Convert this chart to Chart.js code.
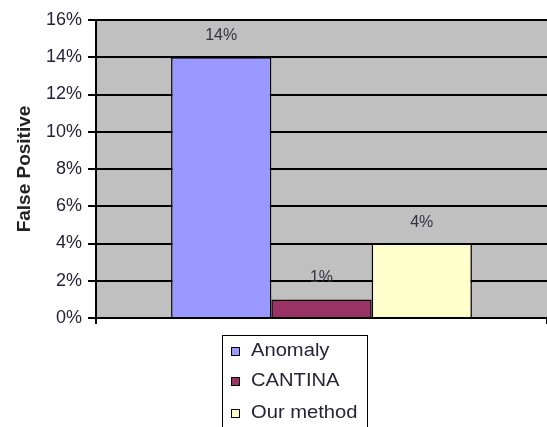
<!DOCTYPE html>
<html>
<head>
<meta charset="utf-8">
<script src="https://cdn.jsdelivr.net/npm/chart.js@4.4.0/dist/chart.umd.min.js"></script>
<style>
  html, body { margin: 0; padding: 0; background: #fff; }
  #wrap { position: relative; width: 547px; height: 427px; overflow: hidden; }
  #legend {
    position: absolute; left: 222px; top: 335px; width: 146px; height: 110px;
    border: 1.5px solid #000; box-sizing: border-box;
    font-family: "Liberation Sans", Arial, sans-serif; font-size: 18px; color: #262338;
  }
  #legend div { position: absolute; left: 8px; height: 18px; line-height: 18px; white-space: nowrap; }
  #legend .sw { display: inline-block; width: 7px; height: 7px; border: 1.5px solid #000; margin-right: 11px; vertical-align: 0; }
  #legend .tx { display: inline-block; transform: scaleX(1.12); transform-origin: left center; }
</style>
</head>
<body>
<div id="wrap">
  <canvas id="fpChart" width="547" height="427"></canvas>
  <div id="legend"></div>
</div>
<script>
// data
const categories = [''];
const seriesNames = ['Anomaly', 'CANTINA', 'Our method'];
const falsePositive = [14, 1, 4];
const seriesColors = ['#9999FF', '#993366', '#FFFFCC'];
const yTicks = [0, 2, 4, 6, 8, 10, 12, 14, 16];

const FONT = '"Liberation Sans", Arial, sans-serif';

// grey plot area like excel
const plotBg = {
  id: 'plotBg',
  beforeDraw(chart) {
    const a = chart.chartArea, c = chart.ctx;
    c.save();
    c.fillStyle = '#C0C0C0';
    c.fillRect(a.left, a.top, a.right - a.left, a.bottom - a.top);
    c.restore();
  }
};

// value labels over the bars
const barLabels = {
  id: 'barLabels',
  afterDatasetsDraw(chart) {
    const c = chart.ctx;
    c.save();
    c.font = '16px ' + FONT;
    c.fillStyle = '#333344';
    c.textAlign = 'center';
    c.textBaseline = 'alphabetic';
    chart.data.datasets.forEach((ds, i) => {
      const bar = chart.getDatasetMeta(i).data[0];
      c.fillText(ds.data[0] + '%', bar.x, bar.y - 17);
    });
    c.restore();
  }
};

const ctx = document.getElementById('fpChart').getContext('2d');
const chart = new Chart(ctx, {
  type: 'bar',
  data: {
    labels: categories,
    datasets: seriesNames.map((name, i) => ({
      label: name,
      data: [falsePositive[i]],
      backgroundColor: seriesColors[i],
      borderColor: '#000',
      borderWidth: 1.5,
      categoryPercentage: 0.667,
      barPercentage: 1.0
    }))
  },
  options: {
    responsive: false,
    animation: false,
    layout: { padding: { top: 20, right: 0, left: 0, bottom: 0 } },
    plugins: {
      legend: { display: false },
      tooltip: { enabled: false }
    },
    scales: {
      x: {
        ticks: { display: false },
        grid: { color: '#000', lineWidth: 2, tickLength: 6, drawOnChartArea: false },
        border: { color: '#000', width: 2 },
        afterFit(scale) { scale.height = 109; }
      },
      y: {
        min: 0,
        max: 16,
        afterBuildTicks(scale) { scale.ticks = yTicks.map(v => ({ value: v })); },
        ticks: {
          callback: v => v + '%',
          color: '#262338',
          padding: 6,
          font: { family: FONT, size: 18 }
        },
        grid: { color: '#000', lineWidth: 2, tickLength: 8 },
        border: { color: '#000', width: 2 },
        title: {
          display: true,
          text: 'False Positive',
          color: '#222',
          padding: { top: 13, bottom: 0 },
          font: { family: FONT, size: 19, weight: 'bold' }
        },
        afterFit(scale) { scale.width = 96; }
      }
    }
  },
  plugins: [plotBg, barLabels]
});

// boxed vertical legend below the plot
const legend = document.getElementById('legend');
const rowTops = [5, 35, 67];
chart.data.datasets.forEach((ds, i) => {
  const row = document.createElement('div');
  row.style.top = rowTops[i] + 'px';
  row.innerHTML = '<span class="sw" style="background:' + ds.backgroundColor + '"></span>' +
    '<span class="tx">' + ds.label + '</span>';
  legend.appendChild(row);
});
</script>
</body>
</html>
